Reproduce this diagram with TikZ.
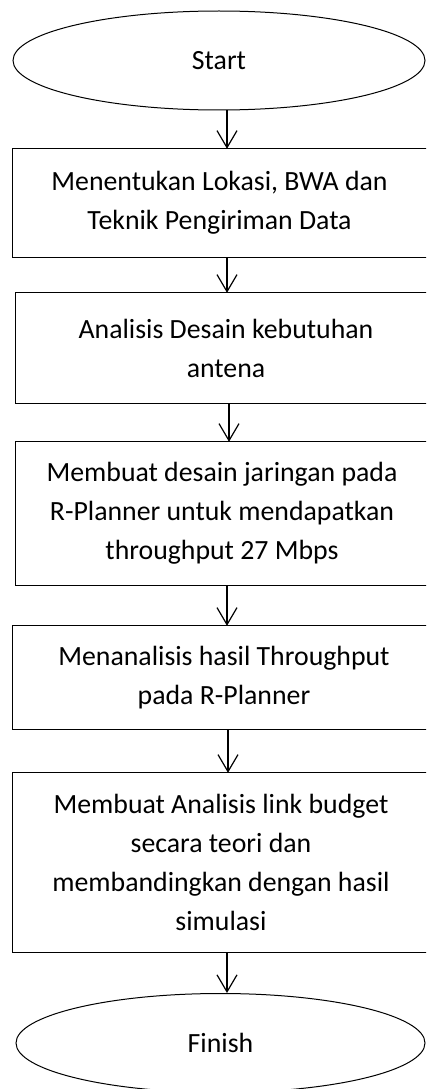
\documentclass[tikz,border=0pt]{standalone}
\usepackage{fontspec}
\setmainfont{Carlito}
\usetikzlibrary{shapes.geometric,arrows.meta}
\begin{document}
\begin{tikzpicture}[x=1pt,y=-1pt,
  every node/.style={font=\fontsize{27.8}{39}\selectfont, align=center, inner sep=0pt},
  procbox/.style={rectangle, anchor=west, minimum width=440pt},
  boxline/.style={draw, line width=1pt},
  term/.style={draw, line width=1pt, ellipse},
  arr/.style={line width=1.2pt, -{Straight Barb[length=17pt,width=20pt,line width=1.2pt]}}]
\useasboundingbox (0,0) rectangle (426,1089);
\clip (0,0) rectangle (426,1089);
\node[term, minimum width=412pt, minimum height=99pt] (start) at (219,60.5) {Start};
\node[procbox, minimum height=108pt] (b1) at (12,203) {};
\node (t1) at (219.5,203) {Menentukan Lokasi, BWA dan\\Teknik Pengiriman Data};
\node[procbox, minimum height=110pt] (b2) at (15,348) {};
\node (t2) at (226,348) {Analisis Desain kebutuhan\\antena};
\node[procbox, minimum height=143pt] (b3) at (15,513.5) {};
\node (t3) at (222,513.5) {Membuat desain jaringan pada\\R-Planner untuk mendapatkan\\throughput 27 Mbps};
\node[procbox, minimum height=103pt] (b4) at (12,677.5) {};
\node (t4) at (224,677.5) {Menanalisis hasil Throughput\\pada R-Planner};
\node[procbox, minimum height=179pt] (b5) at (12,862.5) {};
\node (t5) at (221,862.5) {Membuat Analisis link budget\\secara teori dan\\membandingkan dengan hasil\\simulasi};
\node[term, minimum width=409pt, minimum height=99pt] (finish) at (220.5,1043) {Finish};
\foreach \b in {b1,b2,b3,b4,b5}
  \draw[boxline] (\b.north east) -- (\b.north west) -- (\b.south west) -- (\b.south east);
\draw[arr] (start.south -| 227,0) -- (b1.north -| 227,0);
\draw[arr] (b1.south -| 227,0) -- (b2.north -| 227,0);
\draw[arr] (b2.south -| 229,0) -- (b3.north -| 229,0);
\draw[arr] (b3.south -| 227,0) -- (b4.north -| 227,0);
\draw[arr] (b4.south -| 228,0) -- (b5.north -| 228,0);
\draw[arr] (b5.south -| 227,0) -- (finish.north -| 227,0);
\end{tikzpicture}
\end{document}
